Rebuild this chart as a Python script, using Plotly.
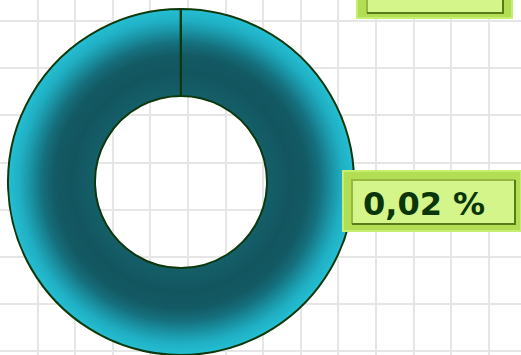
import plotly.graph_objects as go

# ---- data ----
slice_labels = ["Reste", "Part"]
slice_values = [99.98, 0.02]
label_texts = ["99,98 %", "0,02 %"]

W, H = 521, 355
CX, CY = 181, 182          # donut centre (pixels from top-left)
R_OUT, R_IN = 173, 86      # radii in px

# radial colour stops (radius px -> rgb)
stops = [
    (173, (37, 190, 210)),
    (162, (32, 175, 195)),
    (152, (27, 148, 165)),
    (140, (22, 112, 126)),
    (127, (19, 90, 100)),
    (110, (19, 86, 96)),
    (86,  (21, 96, 106)),
]


def color_at(r):
    for (r1, c1), (r2, c2) in zip(stops, stops[1:]):
        if r2 <= r <= r1:
            t = (r1 - r) / (r1 - r2)
            c = [round(a + (b - a) * t) for a, b in zip(c1, c2)]
            return "rgb(%d,%d,%d)" % tuple(c)
    return "rgb(%d,%d,%d)" % stops[-1][1]


def dom(r):
    return dict(x=[(CX - r) / W, (CX + r) / W],
                y=[(H - CY - r) / H, (H - CY + r) / H])


fig = go.Figure()

# pixel-space axes used only for the grid and the label boxes
fig.add_trace(go.Scatter(x=[0, W], y=[0, H], mode="markers",
                         marker=dict(opacity=0), hoverinfo="skip", showlegend=False))

# gradient rings (largest first, smaller drawn on top)
n = 60
for i in range(n):
    r = R_OUT - (R_OUT - R_IN - 1) * i / (n - 1)
    fig.add_trace(go.Pie(
        labels=slice_labels, values=slice_values, sort=False,
        direction="clockwise", rotation=0,
        hole=R_IN / r, domain=dom(r),
        marker=dict(colors=[color_at(r)] * 2, line=dict(width=0)),
        textinfo="none", hoverinfo="skip", showlegend=False))

# outline
fig.add_trace(go.Pie(
    labels=slice_labels, values=slice_values, sort=False,
    direction="clockwise", rotation=0,
    hole=R_IN / R_OUT, domain=dom(R_OUT),
    marker=dict(colors=["rgba(0,0,0,0)"] * 2, line=dict(color="#0d380b", width=2)),
    textinfo="none", hoverinfo="label+percent", showlegend=False))

shapes = []


def add_box(x0, y0, x1, y1, ix0, iy0, ix1, iy1):
    shapes.append(dict(type="rect", xref="x", yref="y", x0=x0, y0=y0, x1=x1, y1=y1,
                       fillcolor="#b2de55", line=dict(color="#c6ee70", width=2), layer="above"))
    shapes.append(dict(type="rect", xref="x", yref="y", x0=ix0, y0=iy0, x1=ix1, y1=iy1,
                       fillcolor="#d4f589", line=dict(width=0), layer="above"))
    # bevel: light top/left, dark bottom/right
    shapes.append(dict(type="path", xref="x", yref="y",
                       path=f"M{ix0},{iy1} L{ix0},{iy0} L{ix1},{iy0}",
                       line=dict(color="#96b840", width=2), layer="above"))
    shapes.append(dict(type="path", xref="x", yref="y",
                       path=f"M{ix0},{iy1} L{ix1},{iy1} L{ix1},{iy0}",
                       line=dict(color="#5a7a1a", width=2), layer="above"))


add_box(357, -45, 512, 18, 367, -36, 503, 13)
add_box(343, 171, 521, 231, 352, 180, 515, 224)

annotations = [
    dict(x=434, y=-12, xref="x", yref="y", text=label_texts[0], showarrow=False,
         font=dict(family="DejaVu Sans", size=32, color="#0a360a", weight="bold")),
    dict(x=361, y=203.5, xref="x", yref="y", xanchor="left", text=label_texts[1], showarrow=False,
         font=dict(family="DejaVu Sans", size=32, color="#0a360a", weight="bold")),
]

fig.update_layout(
    width=W, height=H, margin=dict(l=0, r=0, t=0, b=0),
    paper_bgcolor="white", plot_bgcolor="white", showlegend=False,
    shapes=shapes, annotations=annotations,
    xaxis=dict(range=[0, W], tick0=0, dtick=37.6, showgrid=True, gridcolor="#e6e6e6",
               gridwidth=2.2, zeroline=False, showticklabels=False, ticks="", fixedrange=True),
    yaxis=dict(range=[H, 0], tick0=21, dtick=47.2, showgrid=True, gridcolor="#e6e6e6",
               gridwidth=2.2, zeroline=False, showticklabels=False, ticks="", fixedrange=True),
)

fig.write_html("out.html", config={"displayModeBar": False},
               post_script="document.body.style.margin='0';document.body.style.overflow='hidden';")
